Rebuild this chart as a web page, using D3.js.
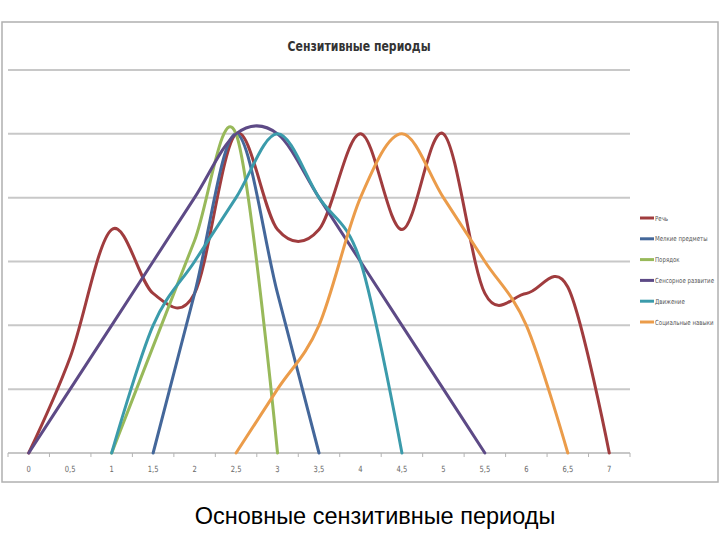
<!DOCTYPE html>
<html>
<head>
<meta charset="utf-8">
<script src="https://cdn.jsdelivr.net/npm/d3@7"></script>
<style>
  body { margin: 0; background: #fff; }
  svg { display: block; }
</style>
</head>
<body>
<svg id="chart" width="720" height="540"></svg>
<script>
// categories on the x axis (ages, years)
const ages = ["0", "0,5", "1", "1,5", "2", "2,5", "3", "3,5", "4", "4,5", "5", "5,5", "6", "6,5", "7"];

// series values, null = no point at that age
const speech = [0, 1.5, 3.5, 2.5, 2.5, 5, 3.5, 3.5, 5, 3.5, 5, 2.5, 2.5, 2.6, 0];
const smallObjects = [null, null, null, 0, 2.5, 5, 2.5, 0, null, null, null, null, null, null, null];
const order = [null, null, 0, 1.67, 3.33, 5, 0, null, null, null, null, null, null, null, null];
const sensory = [0, 1, 2, 3, 4, 5, 5, 4, 3, 2, 1, 0, null, null, null];
const movement = [null, null, 0, 2, 3, 4, 5, 4, 3, 0, null, null, null, null, null];
const social = [null, null, null, null, null, 0, 1, 2, 4, 5, 4, 3, 2, 0, null];

const seriesNames = ["Речь", "Мелкие предметы", "Порядок", "Сенсорное развитие", "Движение", "Социальные навыки"];
const seriesColors = ["#a03c3e", "#44679a", "#98b95a", "#5d4a86", "#3b9bab", "#eb9c4a"];
const seriesValues = [speech, smallObjects, order, sensory, movement, social];
const yTicks = [1, 2, 3, 4, 5, 6];

const svg = d3.select("#chart");

// chart frame
svg.append("rect")
  .attr("x", 2).attr("y", 22)
  .attr("width", 716).attr("height", 460)
  .attr("fill", "#fff")
  .attr("stroke", "#b0b0b0")
  .attr("stroke-width", 1.5);

const x = d3.scalePoint().domain(ages).range([8, 630]).padding(0.5);
const y = d3.scaleLinear().domain([0, 6]).range([453, 70]);

// horizontal gridlines
svg.append("g")
  .selectAll("line")
  .data(yTicks)
  .join("line")
  .attr("x1", 8).attr("x2", 630)
  .attr("y1", d => y(d)).attr("y2", d => y(d))
  .attr("stroke", "#c8c8c8")
  .attr("stroke-width", 2);

// x axis
const xAxis = svg.append("g").attr("transform", `translate(0,${y(0)})`);
xAxis.append("line")
  .attr("x1", 8).attr("x2", 630)
  .attr("stroke", "#b4b4b4").attr("stroke-width", 1.5);
const step = x.step();
xAxis.selectAll("line.tick")
  .data(d3.range(ages.length + 1))
  .join("line")
  .attr("class", "tick")
  .attr("x1", i => 8 + i * step).attr("x2", i => 8 + i * step)
  .attr("y1", 0).attr("y2", 4)
  .attr("stroke", "#b4b4b4");
xAxis.selectAll("text")
  .data(ages)
  .join("text")
  .attr("transform", d => `translate(${x(d)},19) scale(0.8,1)`)
  .attr("text-anchor", "middle")
  .attr("font-family", "DejaVu Sans")
  .attr("font-size", 8.5)
  .attr("fill", "#6a6a6a")
  .text(d => d);

// series lines
const line = d3.line()
  .defined(d => d != null)
  .x((d, i) => x(ages[i]))
  .y(d => y(d))
  .curve(d3.curveCatmullRom.alpha(0));

svg.append("g")
  .selectAll("path")
  .data(seriesValues)
  .join("path")
  .attr("d", d => line(d))
  .attr("fill", "none")
  .attr("stroke", (d, i) => seriesColors[i])
  .attr("stroke-width", 3)
  .attr("stroke-linejoin", "round")
  .attr("stroke-linecap", "round");

// title (narrow bold, like Calibri)
svg.append("text")
  .attr("transform", "translate(359,51) scale(0.78,1)")
  .attr("text-anchor", "middle")
  .attr("font-family", "DejaVu Sans")
  .attr("font-weight", "bold")
  .attr("font-size", 14)
  .attr("fill", "#333")
  .text("Сензитивные периоды");

// legend
const legend = svg.append("g");
const legendY = d3.scalePoint().domain(seriesNames).range([218, 322]);
legend.selectAll("line")
  .data(seriesNames)
  .join("line")
  .attr("x1", 640).attr("x2", 654)
  .attr("y1", d => legendY(d)).attr("y2", d => legendY(d))
  .attr("stroke", (d, i) => seriesColors[i])
  .attr("stroke-width", 3);
legend.selectAll("text")
  .data(seriesNames)
  .join("text")
  .attr("transform", d => `translate(655,${legendY(d) + 2.5}) scale(0.78,1)`)
  .attr("font-family", "DejaVu Sans")
  .attr("font-size", 7)
  .attr("fill", "#555")
  .text(d => d);

// caption under the chart
svg.append("text")
  .attr("x", 375).attr("y", 524)
  .attr("text-anchor", "middle")
  .attr("font-family", "Liberation Sans, Arial")
  .attr("font-size", 23.5)
  .attr("fill", "#000")
  .text("Основные сензитивные периоды");
</script>
</body>
</html>
